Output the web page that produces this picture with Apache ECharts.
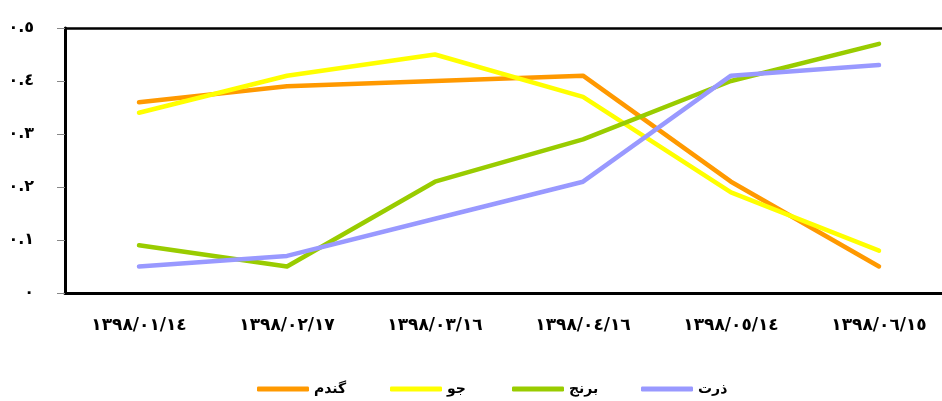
<!DOCTYPE html>
<html>
<head>
<meta charset="utf-8">
<script src="https://cdn.jsdelivr.net/npm/echarts@6/dist/echarts.min.js"></script>
<style>
  html, body { margin: 0; padding: 0; background: #fff; overflow: hidden; }
  #chart { width: 942px; height: 401px; }
</style>
</head>
<body>
<div id="chart"></div>
<script>
// Sampling dates (Solar Hijri calendar)
const categories = ['١٣٩٨/٠١/١٤', '١٣٩٨/٠٢/١٧', '١٣٩٨/٠٣/١٦', '١٣٩٨/٠٤/١٦', '١٣٩٨/٠٥/١٤', '١٣٩٨/٠٦/١٥'];

// Series names and values
const seriesNames = ['گندم', 'جو', 'برنج', 'ذرت'];
const wheat = [0.36, 0.39, 0.40, 0.41, 0.21, 0.05];
const barley = [0.34, 0.41, 0.45, 0.37, 0.19, 0.08];
const rice = [0.09, 0.05, 0.21, 0.29, 0.40, 0.47];
const corn = [0.05, 0.07, 0.14, 0.21, 0.41, 0.43];

// Value-axis tick labels, keyed by tick value
const yTickValues = [0, 0.1, 0.2, 0.3, 0.4, 0.5];
const yTickLabels = ['٠', '٠.١', '٠.٢', '٠.٣', '٠.٤', '٠.٥'];

const colors = ['#FF9900', '#FFFF00', '#99CC00', '#9999FF'];
const seriesData = [wheat, barley, rice, corn];
const FONT = '"DejaVu Sans", sans-serif';

// Horizontal offsets of the legend entries
const legendLefts = [257, 390, 512, 641];

const chart = echarts.init(document.getElementById('chart'), null, { renderer: 'canvas' });

chart.setOption({
  animation: false,
  backgroundColor: '#ffffff',
  grid: {
    left: 65, top: 28, width: 888, height: 265,
    containLabel: false,
    outerBoundsMode: 'none',
    show: false
  },
  legend: seriesNames.map((name, i) => ({
    data: [name],
    left: legendLefts[i], top: 382,
    padding: 0,
    itemWidth: 52, itemHeight: 5,
    icon: 'roundRect',
    textStyle: { fontFamily: FONT, fontWeight: 'bold', fontSize: 14, color: '#000', padding: [0, 0, 0, 0] }
  })),
  xAxis: [
    {
      type: 'category', data: categories, boundaryGap: true,
      axisLine: { lineStyle: { color: '#000', width: 3 } },
      axisTick: { inside: true, length: 6, lineStyle: { color: '#888', width: 1 } },
      axisLabel: { margin: 24, fontFamily: FONT, fontWeight: 'bold', fontSize: 17, color: '#000', interval: 0 }
    },
    {
      type: 'category', data: categories, boundaryGap: true, position: 'bottom',
      axisLine: { show: false },
      axisTick: { alignWithLabel: true, inside: true, length: 6, lineStyle: { color: '#888', width: 1 } },
      axisLabel: { show: false }
    },
    {
      // top frame edge of the plot area
      type: 'category', data: categories, position: 'top',
      axisLine: { show: true, lineStyle: { color: '#000', width: 2.5 } },
      axisTick: { show: false },
      axisLabel: { show: false }
    }
  ],
  yAxis: {
    type: 'value', min: 0, max: 0.5, interval: 0.1,
    splitLine: { show: false },
    axisLine: { show: true, lineStyle: { color: '#000', width: 3 } },
    axisTick: { show: true, length: 8, lineStyle: { color: '#888', width: 1 } },
    axisLabel: {
      margin: 31, fontFamily: FONT, fontWeight: 'bold', fontSize: 16, color: '#000',
      padding: [0, 0, 10, 0],
      formatter: function (v) {
        const i = yTickValues.findIndex(t => Math.abs(t - v) < 1e-9);
        return i >= 0 ? yTickLabels[i] : '';
      }
    }
  },
  series: seriesNames.map((name, i) => ({
    name: name,
    type: 'line',
    xAxisIndex: 0,
    data: seriesData[i],
    symbol: 'none',
    color: colors[i],
    lineStyle: { color: colors[i], width: 4.5, cap: 'round', join: 'round' }
  }))
});
</script>
</body>
</html>
